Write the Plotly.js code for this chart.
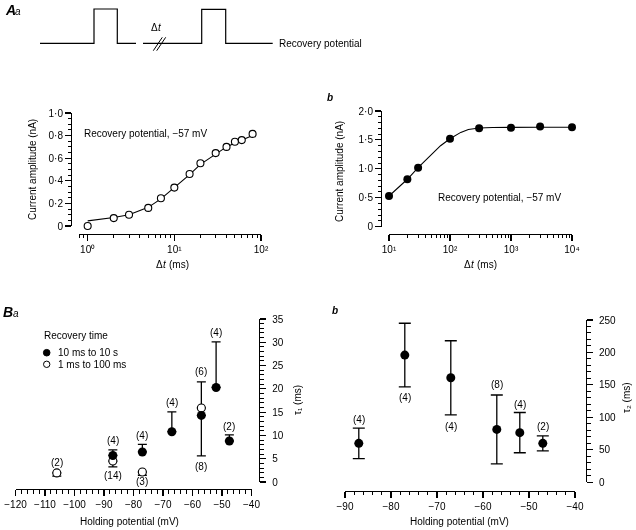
<!DOCTYPE html>
<html><head><meta charset="utf-8">
<script src="https://cdn.plot.ly/plotly-3.0.1.min.js"></script>
<style>html,body{margin:0;padding:0;background:#fff} #chart svg{will-change:transform}</style>
</head><body><div id="chart" style="width:636px;height:530px"></div>
<script>
// ---------- Panel Aa: recovery (1 ms to 100 ms) ----------
const aaDelay = [1, 2, 3, 5, 7, 10, 15, 20, 30, 40, 50, 60, 80];
const aaAmp   = [0.0, 0.07, 0.10, 0.16, 0.245, 0.34, 0.46, 0.555, 0.645, 0.70, 0.745, 0.76, 0.815];
const aaFitDelay = [1, 2, 3, 5, 7, 10, 15, 20, 30, 40, 50, 60, 80];
const aaFitAmp   = [0.045, 0.075, 0.10, 0.165, 0.24, 0.34, 0.455, 0.545, 0.64, 0.70, 0.735, 0.76, 0.80];
const aaYTicks = [0, 0.2, 0.4, 0.6, 0.8, 1.0];
const aaYText  = ['0', '0·2', '0·4', '0·6', '0·8', '1·0'];
const aaXTicks = [1, 10, 100];
const aaXText  = ['10⁰', '10¹', '10²'];

// ---------- Panel Ab: recovery (10 ms to 10 s) ----------
const abDelay = [10, 20, 30, 100, 300, 1000, 3000, 10000];
const abAmp   = [0.53, 0.82, 1.02, 1.52, 1.70, 1.71, 1.73, 1.72];
const abFitDelay = [10, 15, 20, 30, 50, 70, 100, 150, 200, 300, 500, 1000, 3000, 10000];
const abFitAmp   = [0.53, 0.70, 0.82, 1.02, 1.25, 1.40, 1.52, 1.63, 1.68, 1.705, 1.715, 1.72, 1.72, 1.72];
const abYTicks = [0, 0.5, 1.0, 1.5, 2.0];
const abYText  = ['0', '0·5', '1·0', '1·5', '2·0'];
const abXTicks = [10, 100, 1000, 10000];
const abXText  = ['10¹', '10²', '10³', '10⁴'];

// ---------- Panel Ba: tau1 vs holding potential ----------
const baSlowV    = [-87, -77, -67, -57, -52, -47.5];       // 10 ms to 10 s (filled)
const baSlowTau  = [5.7, 6.45, 10.8, 14.3, 20.3, 8.8];
const baSlowUp   = [1.2, 1.65, 4.25, 0, 9.8, 1.3];
const baSlowDown = [0, 0, 0, 8.7, 0, 0];
const baFastV    = [-106, -87, -77, -57];                 // 1 ms to 100 ms (open)
const baFastTau  = [1.95, 4.5, 2.15, 15.9];
const baFastUp   = [0, 0, 0, 5.6];
const baFastDown = [0.7, 1.25, 0.7, 0];
const baCountV    = [-106, -87, -87, -77, -77, -67, -57, -57, -52, -47.5];
const baCountTau  = [4.2, 9.0, 1.45, 10.0, 0.15, 17.1, 23.7, 3.4, 32.1, 12.0];
const baCountText = ['(2)', '(4)', '(14)', '(4)', '(3)', '(4)', '(6)', '(8)', '(4)', '(2)'];

// ---------- Panel Bb: tau2 vs holding potential ----------
const bbV    = [-87, -77, -67, -57, -52, -47];
const bbTau  = [60, 196, 161, 81.5, 76.5, 60];
const bbErr  = [23.5, 49, 57, 53, 31, 11.5];
const bbCountTau  = [97.5, 131, 85.7, 150, 120, 85.7];
const bbCountText = ['(4)', '(4)', '(4)', '(8)', '(4)', '(2)'];

// ---------- Stimulation protocol schematic (page pixels) ----------
const protoX1 = [40, 94, 94, 117.3, 117.3, 136];
const protoY1 = [43.3, 43.3, 9, 9, 43.3, 43.3];
const protoX2 = [143, 201.7, 201.7, 225.7, 225.7, 272.7];
const protoY2 = [43.3, 43.3, 9.3, 9.3, 43.3, 43.3];

const W = 636, H = 530;
const FONT = 'Liberation Sans, Arial, Helvetica, sans-serif';
const px = x => x / W, py = y => 1 - y / H;

const traces = [
  {x: aaFitDelay, y: aaFitAmp, xaxis: 'x', yaxis: 'y', mode: 'lines', line: {color: '#000', width: 1.1}, cliponaxis: false},
  {x: aaDelay, y: aaAmp, xaxis: 'x', yaxis: 'y', mode: 'markers', cliponaxis: false,
   marker: {symbol: 'circle', size: 7, color: '#fff', line: {color: '#000', width: 1.1}}},
  {x: abFitDelay, y: abFitAmp, xaxis: 'x2', yaxis: 'y2', mode: 'lines', line: {color: '#000', width: 1.1}, cliponaxis: false},
  {x: abDelay, y: abAmp, xaxis: 'x2', yaxis: 'y2', mode: 'markers', cliponaxis: false,
   marker: {symbol: 'circle', size: 8, color: '#000'}},
  {x: baFastV, y: baFastTau, xaxis: 'x3', yaxis: 'y3', mode: 'markers', cliponaxis: false,
   error_y: {type: 'data', symmetric: false, array: baFastUp, arrayminus: baFastDown, color: '#000', thickness: 1.3, width: 4.5},
   marker: {symbol: 'circle', size: 8, color: '#fff', line: {color: '#000', width: 1.1}}},
  {x: baSlowV, y: baSlowTau, xaxis: 'x3', yaxis: 'y3', mode: 'markers', cliponaxis: false,
   error_y: {type: 'data', symmetric: false, array: baSlowUp, arrayminus: baSlowDown, color: '#000', thickness: 1.3, width: 4.5},
   marker: {symbol: 'circle', size: 9, color: '#000'}},
  {x: bbV, y: bbTau, xaxis: 'x4', yaxis: 'y4', mode: 'markers', cliponaxis: false,
   error_y: {type: 'data', array: bbErr, color: '#000', thickness: 1.3, width: 6},
   marker: {symbol: 'circle', size: 9, color: '#000'}}
];

const tickFont = {family: FONT, size: 10, color: '#000'};
const minorBase = {ticks: 'outside', ticklen: 3.5, tickwidth: 1, tickcolor: '#000', showgrid: false};
function axisBase(extra) {
  return Object.assign({
    showline: true, linecolor: '#000', linewidth: 1, showgrid: false, zeroline: false,
    ticks: 'outside', ticklen: 6, tickwidth: 1.1, tickcolor: '#000', tickfont: tickFont,
    anchor: 'free', fixedrange: true
  }, extra);
}

const layout = {
  width: W, height: H, margin: {l: 0, r: 0, t: 0, b: 0},
  paper_bgcolor: '#fff', plot_bgcolor: 'rgba(0,0,0,0)', showlegend: false,
  font: {family: FONT, size: 10, color: '#000'},
  xaxis: axisBase({type: 'log', domain: [px(79), px(261)], range: [-0.1, 2.0], position: py(233.5),
    tickmode: 'array', tickvals: aaXTicks, ticktext: aaXText,
    minor: Object.assign({tickmode: 'array', tickvals: [0.8, 0.9, 2, 3, 4, 5, 6, 7, 8, 9, 20, 30, 40, 50, 60, 70, 80, 90]}, minorBase)}),
  yaxis: axisBase({domain: [py(226), py(113)], range: [0, 1], position: px(71),
    tickmode: 'array', tickvals: aaYTicks, ticktext: aaYText,
    minor: Object.assign({tickmode: 'linear', tick0: 0, dtick: 0.05}, minorBase)}),
  xaxis2: axisBase({type: 'log', domain: [px(389), px(572)], range: [1, 4], position: py(233.5),
    tickmode: 'array', tickvals: abXTicks, ticktext: abXText,
    minor: Object.assign({tickmode: 'array', tickvals: [20, 30, 40, 50, 60, 70, 80, 90, 200, 300, 400, 500, 600, 700, 800, 900, 2000, 3000, 4000, 5000, 6000, 7000, 8000, 9000]}, minorBase)}),
  yaxis2: axisBase({domain: [py(226.7), py(111)], range: [0, 2], position: px(381),
    tickmode: 'array', tickvals: abYTicks, ticktext: abYText,
    minor: Object.assign({tickmode: 'linear', tick0: 0, dtick: 0.1}, minorBase)}),
  xaxis3: axisBase({domain: [px(15.5), px(251.5)], range: [-120, -40], position: py(489), tickmode: 'linear', tick0: -120, dtick: 10,
    minor: Object.assign({tickmode: 'linear', tick0: -120, dtick: 2}, minorBase)}),
  yaxis3: axisBase({domain: [py(482), py(319)], range: [0, 35], side: 'right', position: px(259.3), tickmode: 'linear', tick0: 0, dtick: 5,
    minor: Object.assign({tickmode: 'linear', tick0: 0, dtick: 1}, minorBase), ticklabelstandoff: 4}),
  xaxis4: axisBase({domain: [px(345), px(575)], range: [-90, -40], position: py(490.7), tickmode: 'linear', tick0: -90, dtick: 10,
    minor: Object.assign({tickmode: 'linear', tick0: -90, dtick: 2}, minorBase)}),
  yaxis4: axisBase({domain: [py(482.3), py(320)], range: [0, 250], side: 'right', position: px(586), tickmode: 'linear', tick0: 0, dtick: 50,
    minor: Object.assign({tickmode: 'linear', tick0: 0, dtick: 10}, minorBase), ticklabelstandoff: 4}),
  annotations: [],
  shapes: []
};

function ann(text, x, y, o, f) {
  layout.annotations.push(Object.assign({text: text, xref: 'paper', yref: 'paper', x: px(x), y: py(y),
    showarrow: false, xanchor: 'left', yanchor: 'middle',
    font: Object.assign({family: FONT, size: 10, color: '#000'}, f || {})}, o || {}));
}
const tight = {borderpad: 0, borderwidth: 0};
// panel letters
ann('A', 3, 10, {}, {size: 14, weight: 'bold', style: 'italic'});
ann('a', 13, 11.5, {}, {size: 10, style: 'italic'});
ann('B', 1, 312, {}, {size: 14, weight: 'bold', style: 'italic'});
ann('a', 11, 313.5, {}, {size: 10, style: 'italic'});
ann('b', 325, 98, {}, {size: 10, weight: 'bold', style: 'italic'});
ann('b', 330, 310, {}, {size: 10, weight: 'bold', style: 'italic'});
// protocol labels
ann('Δ', 158, 28, Object.assign({xanchor: 'right'}, tight));
ann('t', 158, 28, tight, {style: 'italic'});
ann('Recovery potential', 277, 43.5);
// Aa / Ab texts
ann('Recovery potential, −57 mV', 82, 133);
ann('Recovery potential, −57 mV', 436, 198);
ann('Current amplitude (nA)', 33, 170, {xanchor: 'center', textangle: -90});
ann('Current amplitude (nA)', 340, 172, {xanchor: 'center', textangle: -90});
ann('Δ', 163, 264, Object.assign({xanchor: 'right'}, tight));
ann('t', 163, 264, tight, {style: 'italic'});
ann('(ms)', 168.5, 264, tight);
ann('Δ', 471, 264, Object.assign({xanchor: 'right'}, tight));
ann('t', 471, 264, tight, {style: 'italic'});
ann('(ms)', 476.5, 264, tight);
// B texts
ann('Holding potential (mV)', 129, 521, {xanchor: 'center'});
ann('Holding potential (mV)', 460, 521, {xanchor: 'center'});
ann('τ₁ (ms)', 297, 400, {xanchor: 'center', textangle: -90});
ann('τ₂ (ms)', 626, 398, {xanchor: 'center', textangle: -90});
// legend
ann('Recovery time', 42, 335);
ann('10 ms to 10 s', 56, 352.7);
ann('1 ms to 100 ms', 56, 364.3);
layout.shapes.push({type: 'circle', xref: 'paper', yref: 'paper', xsizemode: 'pixel', ysizemode: 'pixel',
  xanchor: px(46.7), yanchor: py(352.7), x0: -3.3, x1: 3.3, y0: -3.3, y1: 3.3, fillcolor: '#000', line: {color: '#000', width: 1}});
layout.shapes.push({type: 'circle', xref: 'paper', yref: 'paper', xsizemode: 'pixel', ysizemode: 'pixel',
  xanchor: px(46.7), yanchor: py(364.3), x0: -3.2, x1: 3.2, y0: -3.2, y1: 3.2, fillcolor: '#fff', line: {color: '#000', width: 1}});

// count labels (n) in data coordinates
baCountV.forEach((v, i) => layout.annotations.push({text: baCountText[i], xref: 'x3', yref: 'y3', x: v, y: baCountTau[i],
  showarrow: false, xanchor: 'center', yanchor: 'middle', font: {family: FONT, size: 10, color: '#000'}}));
bbV.forEach((v, i) => layout.annotations.push({text: bbCountText[i], xref: 'x4', yref: 'y4', x: v, y: bbCountTau[i],
  showarrow: false, xanchor: 'center', yanchor: 'middle', font: {family: FONT, size: 10, color: '#000'}}));

// protocol schematic as paths
function pathOf(xs, ys) { return xs.map((x, i) => (i ? 'L' : 'M') + px(x) + ',' + py(ys[i])).join(' '); }
[[protoX1, protoY1], [protoX2, protoY2]].forEach(p => layout.shapes.push({type: 'path', xref: 'paper', yref: 'paper',
  path: pathOf(p[0], p[1]), line: {color: '#000', width: 1.2}}));
layout.shapes.push({type: 'path', xref: 'paper', yref: 'paper', path: pathOf([153.3, 162.3], [50.7, 37.3]), line: {color: '#000', width: 1}});
layout.shapes.push({type: 'path', xref: 'paper', yref: 'paper', path: pathOf([156.7, 165.7], [50.7, 37.3]), line: {color: '#000', width: 1}});

Plotly.newPlot('chart', traces, layout, {staticPlot: true, displayModeBar: false});
</script></body></html>
